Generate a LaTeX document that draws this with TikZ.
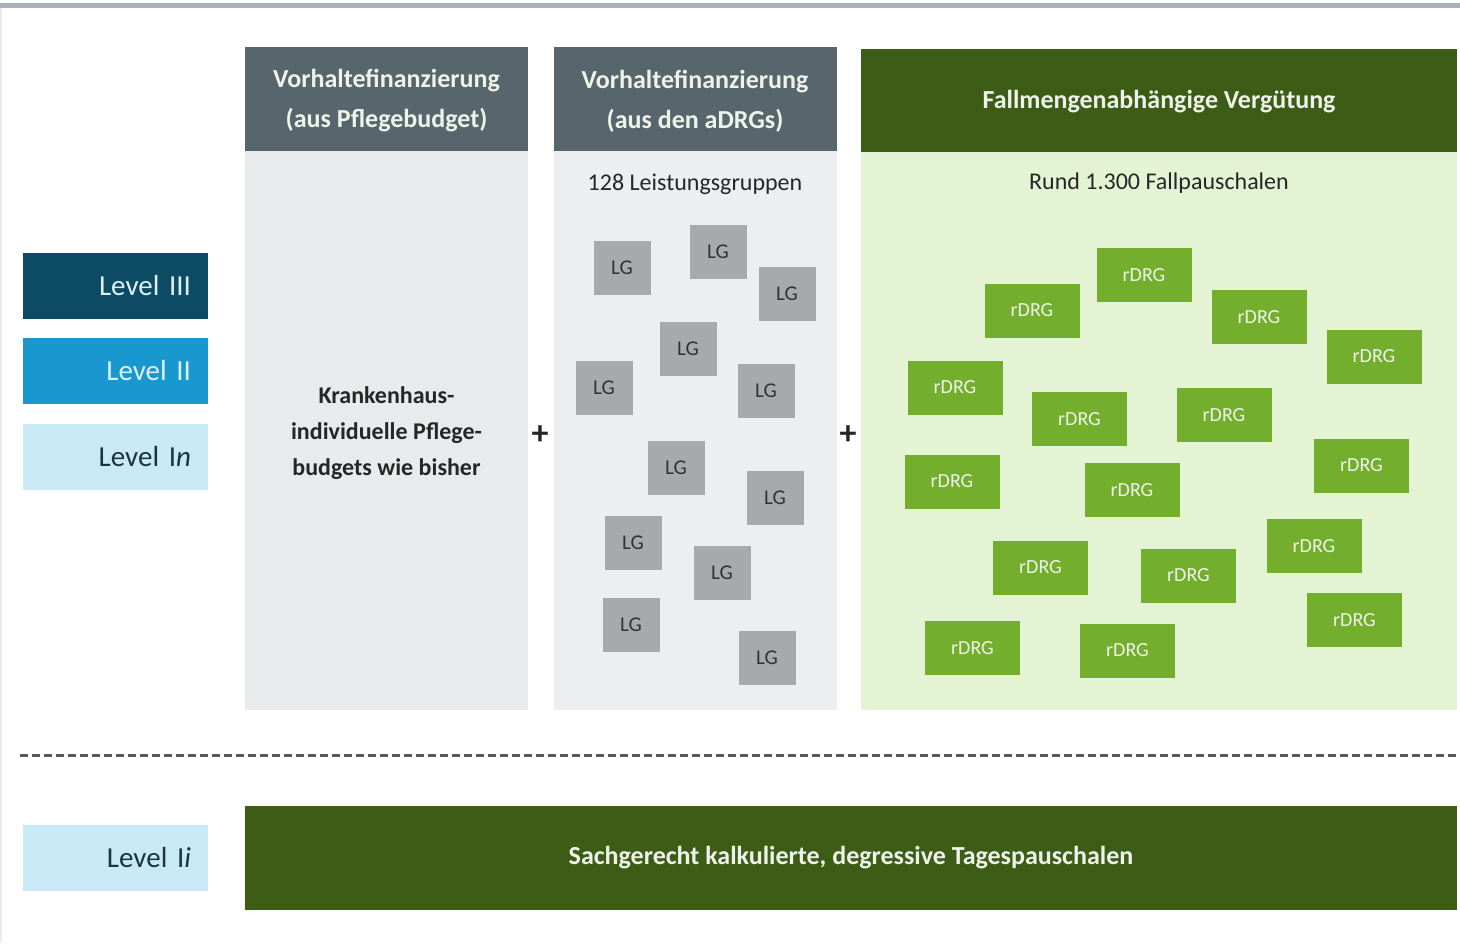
\documentclass[tikz,border=0pt]{standalone}
\usepackage{fontspec}
\setmainfont{Carlito}
\definecolor{topline}{HTML}{A9B2BA}
\definecolor{lvlIII}{HTML}{0D4A63}
\definecolor{lvlII}{HTML}{1998CF}
\definecolor{lvlI}{HTML}{C9E9F7}
\definecolor{lvltextlight}{HTML}{DCF1FB}
\definecolor{lvltextdark}{HTML}{1B3345}
\definecolor{headgray}{HTML}{57666C}
\definecolor{bodygrayA}{HTML}{E8EAEC}
\definecolor{bodygrayB}{HTML}{ECEEF0}
\definecolor{darkgreen}{HTML}{3D5D17}
\definecolor{lightgreen}{HTML}{E3F3D3}
\definecolor{drggreen}{HTML}{73AE2D}
\definecolor{lggray}{HTML}{A7A9AB}
\definecolor{lgtext}{HTML}{333333}
\definecolor{headtext}{HTML}{EEF3EA}
\definecolor{dashgray}{HTML}{55595C}
\begin{document}
\begin{tikzpicture}[x=1pt,y=-1pt,
  lvlbox/.style={minimum width=185pt, minimum height=66pt, inner xsep=17pt,
    text width=151pt, align=right, font=\fontsize{29}{32}\selectfont},
  head/.style={minimum width=283pt, minimum height=104pt, inner sep=0pt, fill=headgray},
  headlabel/.style={text=headtext, align=center, font=\bfseries\fontsize{26}{40}\selectfont},
  panel/.style={minimum width=283pt, minimum height=559pt, inner sep=0pt},
  subtitle/.style={text=black!85, font=\fontsize{24}{26}\selectfont},
  lg/.style={minimum width=57pt, minimum height=54pt, inner sep=0pt,
    fill=lggray, text=lgtext, font=\fontsize{21}{22}\selectfont},
  rdrg/.style={minimum width=95pt, minimum height=54pt, inner sep=0pt,
    fill=drggreen, text=headtext, font=\fontsize{20}{22}\selectfont},
  plus/.style={font=\bfseries\fontsize{34}{36}\selectfont, text=black!85}
]
\useasboundingbox (0,0) rectangle (1460,943);
\fill[white] (0,0) rectangle (1460,943);
% top rule and frame edge
\fill[topline] (0,3) rectangle (1460,8);
\draw[black!8, line width=1.5pt] (1,8) -- (1,943);

% level labels
\node[lvlbox, fill=lvlIII, text=lvltextlight] (l3) at (115.5,286) {Level III};
\node[lvlbox, fill=lvlII, text=lvltextlight] (l2) at (115.5,371) {Level II};
\node[lvlbox, fill=lvlI, text=lvltextdark] (l1n) at (115.5,456.5) {Level I\textit{n}};
\node[lvlbox, fill=lvlI, text=lvltextdark] (l1i) at (115.5,857.5) {Level I\textit{i}};

% column 1: care budget
\node[panel, fill=bodygrayA] (p1) at (386.5,430.5) {};
\node[head] (h1) at (386.5,99) {};
\node[headlabel] (h1t) at (386.5,101) {Vorhaltefinanzierung\\(aus Pflegebudget)};
\node[align=center, font=\bfseries\fontsize{24}{36}\selectfont, text=black!85] (t1)
  at (386.5,433) {Krankenhaus-\\individuelle Pflege-\\budgets wie bisher};

% column 2: service groups
\node[panel, fill=bodygrayB] (p2) at (695,430.5) {};
\node[head] (h2) at (695,99) {};
\node[headlabel] (h2t) at (695,101) {Vorhaltefinanzierung\\(aus den aDRGs)};
\node[subtitle] (s2) at (695,184) {128 Leistungsgruppen};
\node[lg] (lg1) at (622,268) {LG};
\node[lg] (lg2) at (718,252) {LG};
\node[lg] (lg3) at (787,294) {LG};
\node[lg] (lg4) at (688,349) {LG};
\node[lg] (lg5) at (604,388) {LG};
\node[lg] (lg6) at (766,391) {LG};
\node[lg] (lg7) at (676,468) {LG};
\node[lg] (lg8) at (775,498) {LG};
\node[lg] (lg9) at (633,543) {LG};
\node[lg] (lg10) at (722,573) {LG};
\node[lg] (lg11) at (631,625) {LG};
\node[lg] (lg12) at (767,658) {LG};

% column 3: case-based payment
\node[minimum width=596pt, minimum height=558pt, inner sep=0pt, fill=lightgreen] (p3) at (1159,431) {};
\node[minimum width=596pt, minimum height=103pt, inner sep=0pt, fill=darkgreen] (h3) at (1159,100.5) {};
\node[text=headtext, font=\bfseries\fontsize{26}{30}\selectfont] (h3t) at (1159,102)
  {Fallmengenabhängige Vergütung};
\node[subtitle] (s3) at (1159,183) {Rund 1.300 Fallpauschalen};
\node[rdrg] (r1) at (1032,310.5) {rDRG};
\node[rdrg] (r2) at (1144,275) {rDRG};
\node[rdrg] (r3) at (1259,317) {rDRG};
\node[rdrg] (r4) at (1374,356.5) {rDRG};
\node[rdrg] (r5) at (955,387.5) {rDRG};
\node[rdrg] (r6) at (1079.5,419) {rDRG};
\node[rdrg] (r7) at (1224,415) {rDRG};
\node[rdrg] (r8) at (952,481.5) {rDRG};
\node[rdrg] (r9) at (1132,490) {rDRG};
\node[rdrg] (r10) at (1361.5,465.5) {rDRG};
\node[rdrg] (r11) at (1314,546) {rDRG};
\node[rdrg] (r12) at (1040.5,567.5) {rDRG};
\node[rdrg] (r13) at (1188.5,575.5) {rDRG};
\node[rdrg] (r14) at (1354.5,620) {rDRG};
\node[rdrg] (r15) at (972.5,648) {rDRG};
\node[rdrg] (r16) at (1127.5,650.5) {rDRG};

% plus signs between the columns
\node[plus] (plus1) at (540,435) {+};
\node[plus] (plus2) at (848,435) {+};

% separator
\coordinate (sepL) at (20,755);
\coordinate (sepR) at (1457,755);
\draw[dashgray, line width=3pt, dash pattern=on 8pt off 4pt] (sepL) -- (sepR);

% bottom bar: day rates
\node[minimum width=1212pt, minimum height=104pt, fill=darkgreen, text=headtext,
  font=\bfseries\fontsize{26}{30}\selectfont] (bar) at (851,858)
  {Sachgerecht kalkulierte, degressive Tagespauschalen};
\end{tikzpicture}
\end{document}
